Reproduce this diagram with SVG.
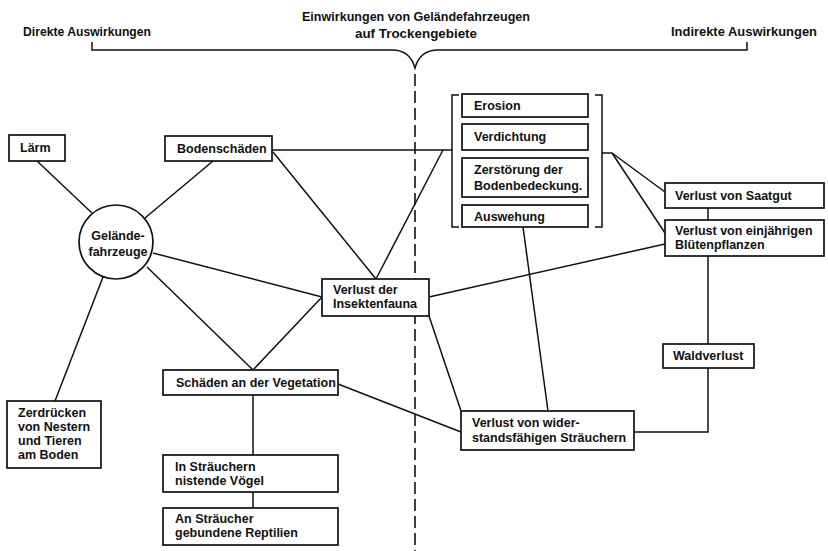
<svg xmlns="http://www.w3.org/2000/svg" width="828" height="551" viewBox="0 0 828 551">
<style>
  .bg { fill: #ffffff; }
  .box { fill: #ffffff; stroke: #111111; stroke-width: 1.7; }
  .ln { fill: none; stroke: #111111; stroke-width: 1.5; }
  .dash { fill: none; stroke: #111111; stroke-width: 1.6; stroke-dasharray: 12 5; }
  .t { font-family: "Liberation Sans", Arial, sans-serif; font-size: 12.5px; font-weight: bold; fill: #111111; }
  .h { font-family: "Liberation Sans", Arial, sans-serif; font-size: 13px; font-weight: bold; fill: #111111; }
</style>
<rect class="bg" x="0" y="0" width="828" height="551"/>

<g id="header">
  <text class="h" x="416" y="21" text-anchor="middle" textLength="228" lengthAdjust="spacingAndGlyphs">Einwirkungen von Geländefahrzeugen</text>
  <text class="h" x="416" y="38" text-anchor="middle" textLength="122" lengthAdjust="spacingAndGlyphs">auf Trockengebiete</text>
  <text class="h" x="23" y="36" textLength="128" lengthAdjust="spacingAndGlyphs">Direkte Auswirkungen</text>
  <text class="h" x="671" y="36" textLength="146" lengthAdjust="spacingAndGlyphs">Indirekte Auswirkungen</text>
  <path class="ln" d="M92,42 V50 H392 Q410,50 415,68 Q420,50 438,50 H747 V42"/>
</g>

<g id="connectors">
  <line class="dash" x1="415" y1="74" x2="415" y2="551"/>
  <line class="ln" x1="37" y1="161" x2="93" y2="214"/>
  <line class="ln" x1="213" y1="161" x2="145" y2="218"/>
  <line class="ln" x1="153" y1="253" x2="322" y2="297"/>
  <line class="ln" x1="147" y1="267" x2="253" y2="370"/>
  <line class="ln" x1="322" y1="297" x2="253" y2="370"/>
  <line class="ln" x1="103" y1="277" x2="55" y2="401"/>
  <line class="ln" x1="272" y1="150" x2="452" y2="150"/>
  <line class="ln" x1="273" y1="152" x2="376" y2="279"/>
  <line class="ln" x1="443" y1="150" x2="376" y2="279"/>
  <line class="ln" x1="429" y1="297" x2="665" y2="244"/>
  <line class="ln" x1="429" y1="316" x2="461" y2="411"/>
  <line class="ln" x1="523" y1="227" x2="548" y2="411"/>
  <line class="ln" x1="338" y1="384" x2="461" y2="432"/>
  <line class="ln" x1="602" y1="153" x2="612" y2="153"/>
  <line class="ln" x1="612" y1="153" x2="665" y2="192"/>
  <line class="ln" x1="612" y1="153" x2="665" y2="233"/>
  <line class="ln" x1="708" y1="208" x2="708" y2="220"/>
  <line class="ln" x1="708" y1="256" x2="708" y2="344"/>
  <path class="ln" d="M708,368 V432 H634"/>
  <line class="ln" x1="253" y1="395" x2="253" y2="455"/>
  <line class="ln" x1="253" y1="492" x2="253" y2="508"/>
  <path class="ln" d="M459,95 H452 V227 H459"/>
  <path class="ln" d="M595,95 H602 V227 H595"/>
</g>

<g id="laerm">
  <rect class="box" x="9" y="135" width="56" height="26"/>
  <text class="t" x="20" y="152">Lärm</text>
</g>
<g id="bodenschaeden">
  <rect class="box" x="165" y="136" width="107" height="25"/>
  <text class="t" x="177" y="153">Bodenschäden</text>
</g>
<g id="gelaendefahrzeuge">
  <circle class="box" cx="116" cy="242" r="37"/>
  <text class="t" x="118" y="240" text-anchor="middle">Gelände-</text>
  <text class="t" x="118" y="256" text-anchor="middle">fahrzeuge</text>
</g>
<g id="erosion">
  <rect class="box" x="462" y="94" width="126" height="23"/>
  <text class="t" x="474" y="110">Erosion</text>
</g>
<g id="verdichtung">
  <rect class="box" x="462" y="124" width="126" height="26"/>
  <text class="t" x="474" y="141">Verdichtung</text>
</g>
<g id="zerstoerung">
  <rect class="box" x="462" y="158" width="126" height="39"/>
  <text class="t" x="474" y="174">Zerstörung der</text>
  <text class="t" x="474" y="190">Bodenbedeckung.</text>
</g>
<g id="auswehung">
  <rect class="box" x="462" y="205" width="126" height="22"/>
  <text class="t" x="474" y="221">Auswehung</text>
</g>
<g id="saatgut">
  <rect class="box" x="665" y="183" width="159" height="25"/>
  <text class="t" x="675" y="200">Verlust von Saatgut</text>
</g>
<g id="bluetenpflanzen">
  <rect class="box" x="665" y="220" width="159" height="36"/>
  <text class="t" x="675" y="235">Verlust von einjährigen</text>
  <text class="t" x="675" y="249">Blütenpflanzen</text>
</g>
<g id="insektenfauna">
  <rect class="box" x="322" y="279" width="107" height="37"/>
  <text class="t" x="333" y="294">Verlust der</text>
  <text class="t" x="333" y="308">Insektenfauna</text>
</g>
<g id="waldverlust">
  <rect class="box" x="663" y="344" width="91" height="24"/>
  <text class="t" x="673" y="360">Waldverlust</text>
</g>
<g id="vegetation">
  <rect class="box" x="163" y="370" width="175" height="25"/>
  <text class="t" x="176" y="387">Schäden an der Vegetation</text>
</g>
<g id="straeucher">
  <rect class="box" x="461" y="411" width="173" height="39"/>
  <text class="t" x="472" y="427">Verlust von wider-</text>
  <text class="t" x="472" y="442">standsfähigen Sträuchern</text>
</g>
<g id="zerdruecken">
  <rect class="box" x="7" y="401" width="94" height="67"/>
  <text class="t" x="18" y="417">Zerdrücken</text>
  <text class="t" x="18" y="431">von Nestern</text>
  <text class="t" x="18" y="445">und Tieren</text>
  <text class="t" x="18" y="459">am Boden</text>
</g>
<g id="voegel">
  <rect class="box" x="163" y="455" width="175" height="37"/>
  <text class="t" x="175" y="471">In Sträuchern</text>
  <text class="t" x="175" y="485">nistende Vögel</text>
</g>
<g id="reptilien">
  <rect class="box" x="163" y="508" width="175" height="37"/>
  <text class="t" x="175" y="523">An Sträucher</text>
  <text class="t" x="175" y="537">gebundene Reptilien</text>
</g>
</svg>
